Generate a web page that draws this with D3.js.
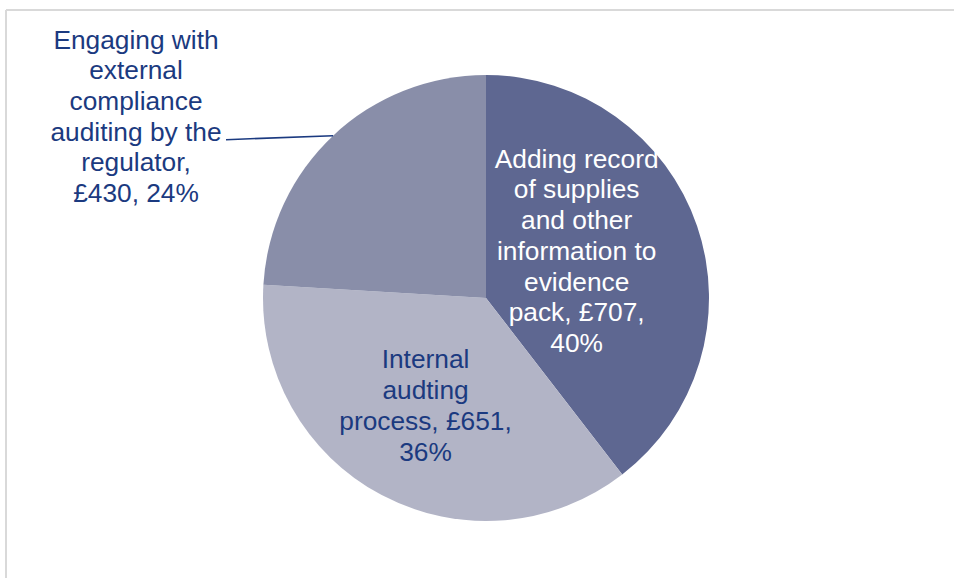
<!DOCTYPE html>
<html>
<head>
<meta charset="utf-8">
<script src="https://cdn.jsdelivr.net/npm/d3@7"></script>
<style>
  body { margin: 0; background: #fff; }
  text { font-family: "Liberation Sans", Arial, sans-serif; }
</style>
</head>
<body>
<div id="chart"></div>
<script>
// data
var categories = ["Adding record of supplies and other information to evidence pack",
                  "Internal audting process",
                  "Engaging with external compliance auditing by the regulator"];
var values = [707, 651, 430];
var percents = ["40%", "36%", "24%"];
var labelLines = [
  ["Adding record", "of supplies", "and other", "information to", "evidence", "pack, £707,", "40%"],
  ["Internal", "audting", "process, £651,", "36%"],
  ["Engaging with", "external", "compliance", "auditing by the", "regulator,", "£430, 24%"]
];
var colors = ["#5e6791", "#b2b4c6", "#898ea9"];

var width = 954, height = 578;
var cx = 486, cy = 298, radius = 223;
var fontSize = 26.3, lineH = 30.7;

var svg = d3.select("#chart").append("svg")
    .attr("width", width)
    .attr("height", height);

// chart frame (top and left edges visible)
svg.append("line").attr("x1", 6).attr("x2", width).attr("y1", 10).attr("y2", 10)
    .attr("stroke", "#d9d9d9").attr("stroke-width", 2);
svg.append("line").attr("x1", 6).attr("x2", 6).attr("y1", 10).attr("y2", height)
    .attr("stroke", "#d9d9d9").attr("stroke-width", 2);

var pie = d3.pie().sort(null).value(function(d) { return d; });
var arcs = pie(values);

var arc = d3.arc().innerRadius(0).outerRadius(radius);

var g = svg.append("g").attr("transform", "translate(" + cx + "," + cy + ")");

g.selectAll("path.slice")
  .data(arcs)
  .enter()
  .append("path")
    .attr("class", "slice")
    .attr("d", arc)
    .attr("fill", function(d, i) { return colors[i]; });

function drawLabel(lines, x, yFirst, color) {
  var t = g.append("text")
    .attr("text-anchor", "middle")
    .attr("font-size", fontSize)
    .attr("fill", color);
  lines.forEach(function(l, j) {
    t.append("tspan").attr("x", x).attr("y", yFirst + j * lineH).text(l);
  });
}

// slice 0: inside, white
var c0 = d3.arc().innerRadius(100).outerRadius(100).centroid(arcs[0]);
drawLabel(labelLines[0], c0[0] - 4, c0[1] - 98, "#ffffff");

// slice 1: inside, navy
var c1 = d3.arc().innerRadius(125).outerRadius(125).centroid(arcs[1]);
drawLabel(labelLines[1], c1[0] - 2, c1[1] - 40, "#1b3a80");

// slice 2: outside with leader line
var e2 = d3.arc().innerRadius(radius).outerRadius(radius).centroid(arcs[2]);
var leadX = -260;
g.append("line")
  .attr("x1", e2[0]).attr("y1", e2[1])
  .attr("x2", leadX).attr("y2", e2[1] + 4)
  .attr("stroke", "#1b3a80").attr("stroke-width", 1.6);
drawLabel(labelLines[2], leadX - 90, e2[1] + 5 - 3 * lineH, "#1b3a80");
</script>
</body>
</html>
